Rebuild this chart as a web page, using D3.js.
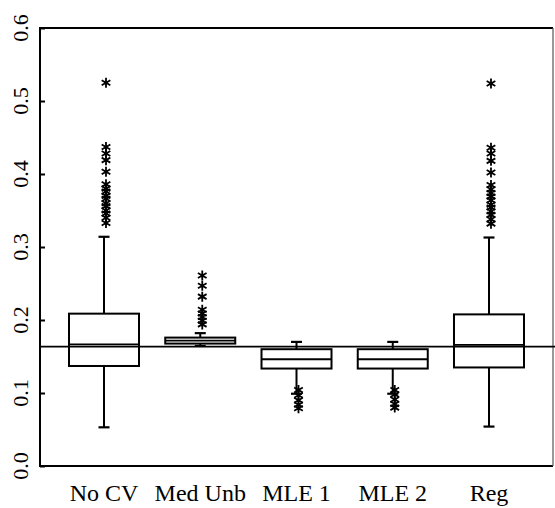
<!DOCTYPE html>
<html>
<head>
<meta charset="utf-8">
<script src="https://cdn.jsdelivr.net/npm/d3@7"></script>
<style>
  html, body { margin: 0; padding: 0; background: #fff; }
  svg { display: block; }
</style>
</head>
<body>
<svg id="chart" width="555" height="508"></svg>
<script>
// Estimator comparison: distribution of each method's estimates
const categories = ["No CV", "Med Unb", "MLE 1", "MLE 2", "Reg"];
const whiskerLow  = [0.053, 0.1645, 0.099, 0.099, 0.054];
const q1          = [0.137, 0.1677, 0.1335, 0.1335, 0.135];
const medians     = [0.1667, 0.1718, 0.1462, 0.1462, 0.1658];
const q3          = [0.2087, 0.1759, 0.160, 0.160, 0.2077];
const whiskerHigh = [0.314, 0.182, 0.170, 0.170, 0.313];
const outliers = [
  [0.525, 0.437, 0.428, 0.419, 0.403, 0.386, 0.380, 0.376, 0.370, 0.366, 0.360, 0.356, 0.350, 0.346, 0.340, 0.333],
  [0.261, 0.247, 0.232, 0.214, 0.209, 0.204, 0.199, 0.194],
  [0.104, 0.097, 0.090, 0.084, 0.079],
  [0.104, 0.098, 0.091, 0.085, 0.080],
  [0.524, 0.436, 0.428, 0.418, 0.402, 0.385, 0.379, 0.374, 0.369, 0.364, 0.358, 0.354, 0.349, 0.344, 0.338, 0.332]
];
const referenceValue = 0.1635;
const yTicks = [0.0, 0.1, 0.2, 0.3, 0.4, 0.5, 0.6];
const yTickLabels = ["0.0", "0.1", "0.2", "0.3", "0.4", "0.5", "0.6"];

const FONT = "Liberation Serif";
const svg = d3.select("#chart");
const plotLeft = 40, plotRight = 553, plotTop = 28, plotBottom = 466;

const x = d3.scalePoint().domain(categories).range([plotLeft, plotRight]).padding(0.665);
const y = d3.scaleLinear().domain([0, 0.6]).range([plotBottom, plotTop]);

const boxW = 70, capW = 11;

// Plot frame
svg.append("line").attr("x1", plotLeft).attr("x2", plotLeft).attr("y1", plotTop - 1).attr("y2", plotBottom + 1)
  .attr("stroke", "#000").attr("stroke-width", 2);
svg.append("line").attr("x1", plotLeft).attr("x2", plotRight).attr("y1", plotTop).attr("y2", plotTop)
  .attr("stroke", "#000").attr("stroke-width", 2);
svg.append("line").attr("x1", plotLeft).attr("x2", plotRight).attr("y1", plotBottom).attr("y2", plotBottom)
  .attr("stroke", "#000").attr("stroke-width", 2);
svg.append("line").attr("x1", plotRight).attr("x2", plotRight).attr("y1", plotTop).attr("y2", plotBottom)
  .attr("stroke", "#555").attr("stroke-width", 1.2);

// Y axis ticks (pointing inward)
const yAxis = d3.axisLeft(y).tickValues(yTicks).tickFormat("").tickSize(-5);
const gy = svg.append("g").attr("transform", `translate(${plotLeft},0)`).call(yAxis);
gy.select(".domain").remove();
gy.selectAll(".tick line").attr("stroke", "#000").attr("stroke-width", 2);

// Y tick labels, rotated to read upward
svg.append("g").selectAll("text").data(yTicks).join("text")
  .attr("transform", d => `translate(${plotLeft - 12},${y(d)}) rotate(-90)`)
  .attr("text-anchor", "middle")
  .style("font-family", FONT)
  .style("font-size", "22px")
  .style("fill", "#000")
  .text((d, i) => yTickLabels[i]);

// Category labels
svg.append("g").selectAll("text").data(categories).join("text")
  .attr("x", d => x(d))
  .attr("y", plotBottom + 35)
  .attr("text-anchor", "middle")
  .style("font-family", FONT)
  .style("font-size", "24px")
  .style("fill", "#000")
  .text(d => d);

// Boxes and whiskers
const groups = svg.selectAll("g.box").data(categories).join("g").attr("class", "box");
groups.each(function(c, i) {
  const g = d3.select(this);
  const cx = x(c);
  // whiskers
  g.append("line").attr("x1", cx).attr("x2", cx).attr("y1", y(q3[i])).attr("y2", y(whiskerHigh[i]))
    .attr("stroke", "#000").attr("stroke-width", 2);
  g.append("line").attr("x1", cx).attr("x2", cx).attr("y1", y(q1[i])).attr("y2", y(whiskerLow[i]))
    .attr("stroke", "#000").attr("stroke-width", 2);
  // caps
  [whiskerHigh[i], whiskerLow[i]].forEach(v => {
    g.append("line").attr("x1", cx - capW / 2).attr("x2", cx + capW / 2).attr("y1", y(v)).attr("y2", y(v))
      .attr("stroke", "#000").attr("stroke-width", 2.2);
  });
  // box
  g.append("rect").attr("x", cx - boxW / 2).attr("y", y(q3[i]))
    .attr("width", boxW).attr("height", y(q1[i]) - y(q3[i]))
    .attr("fill", "#fff").attr("stroke", "#000").attr("stroke-width", 2);
  // median
  g.append("line").attr("x1", cx - boxW / 2).attr("x2", cx + boxW / 2)
    .attr("y1", y(medians[i])).attr("y2", y(medians[i]))
    .attr("stroke", "#000").attr("stroke-width", 1.8);
});

// Reference line
svg.append("line").attr("x1", plotLeft).attr("x2", 555)
  .attr("y1", y(referenceValue)).attr("y2", y(referenceValue))
  .attr("stroke", "#000").attr("stroke-width", 1.8);

// Outliers drawn as asterisks
const r = 5;
const starPath = (() => {
  const p = d3.path();
  for (let k = 0; k < 3; k++) {
    const a = Math.PI / 2 + k * Math.PI / 3;
    p.moveTo(r * Math.cos(a), r * Math.sin(a));
    p.lineTo(-r * Math.cos(a), -r * Math.sin(a));
  }
  return p.toString();
})();
categories.forEach((c, i) => {
  svg.append("g").selectAll("path").data(outliers[i]).join("path")
    .attr("d", starPath)
    .attr("transform", d => `translate(${x(c) + 2},${y(d)})`)
    .attr("stroke", "#000").attr("stroke-width", 1.8).attr("fill", "none");
});
</script>
</body>
</html>
